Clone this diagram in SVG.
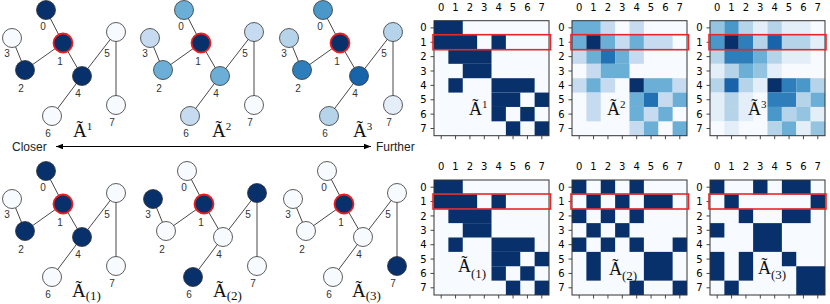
<svg xmlns="http://www.w3.org/2000/svg" xmlns:xlink="http://www.w3.org/1999/xlink" width="830" height="304" viewBox="0 0 830 304">
<style>
.edge{stroke:#333;stroke-width:0.9}
.node circle{stroke:#333;stroke-width:0.8}
.node text{font-family:"Liberation Sans",Arial,sans-serif;font-size:10px;fill:#333;text-anchor:middle}
.node.sel circle{stroke:#ee1c1c;stroke-width:1.8}
.tt{font-family:"Liberation Serif","Times New Roman",serif;fill:#111}
.lab{font-family:"DejaVu Sans",sans-serif;font-size:10px;fill:#000}
.cl{text-anchor:middle}
.rl{text-anchor:end}
.frame{fill:none;stroke:#333;stroke-width:1}
.tk{fill:none;stroke:#333;stroke-width:0.9}
.rb{fill:none;stroke:#e8262a;stroke-width:1.6}
.arr{font-family:"Liberation Sans",Arial,sans-serif;font-size:12px;fill:#222}
.c0{fill:#f7fbff}.dk{fill:#08306b}
.b1{fill:#c6dbef}.b2{fill:#6baed6}.b3{fill:#2171b5}
.t1{fill:#e3eef9}.t3{fill:#b6d4e9}.t4{fill:#94c4df}.t5{fill:#6baed6}.t6{fill:#4a98c9}.t7{fill:#2e7ebc}.t8{fill:#1764ab}
</style>
<defs>
<marker id="ah" viewBox="0 0 10 10" refX="10" refY="5" markerWidth="8" markerHeight="7" markerUnits="userSpaceOnUse" orient="auto-start-reverse"><path d="M0,1 L10,5 L0,9 z" fill="#000"/></marker>
<path id="ticks" class="tk" d="M7.19 115v3.5M21.56 115v3.5M35.94 115v3.5M50.31 115v3.5M64.69 115v3.5M79.06 115v3.5M93.44 115v3.5M107.81 115v3.5M0 7.19h-3.5M0 21.56h-3.5M0 35.94h-3.5M0 50.31h-3.5M0 64.69h-3.5M0 79.06h-3.5M0 93.44h-3.5M0 107.81h-3.5"/>
</defs>

<!-- Arrow -->
<g id="arrow">
<line x1="56" y1="146.5" x2="371" y2="146.5" stroke="#000" stroke-width="1" marker-start="url(#ah)" marker-end="url(#ah)"/>
<text class="arr" x="12" y="151">Closer</text>
<text class="arr" x="376" y="151">Further</text>
</g>

<!-- Top graph 1 -->
<g id="graph-A1" transform="translate(0,0)">
<g id="graph-A1-edges" class="connectors">
<line class="edge" x1="46" y1="10" x2="63" y2="43"/><line class="edge" x1="63" y1="43" x2="25" y2="70"/><line class="edge" x1="25" y1="70" x2="12" y2="38"/><line class="edge" x1="63" y1="43" x2="82" y2="76"/><line class="edge" x1="82" y1="76" x2="116" y2="32"/><line class="edge" x1="82" y1="76" x2="52" y2="116"/><line class="edge" x1="116" y1="32" x2="116" y2="105"/>
</g>
<g id="A1-n0" class="node"><circle cx="46" cy="10" r="9.5" class="dk"/><text x="43" y="29.5">0</text></g>
<g id="A1-n1" class="node sel"><circle cx="63" cy="43" r="9.5" class="dk"/><text x="60" y="64.5">1</text></g>
<g id="A1-n2" class="node"><circle cx="25" cy="70" r="9.5" class="dk"/><text x="21" y="91.5">2</text></g>
<g id="A1-n3" class="node"><circle cx="12" cy="38" r="9.5" class="c0"/><text x="7" y="56.5">3</text></g>
<g id="A1-n4" class="node"><circle cx="82" cy="76" r="9.5" class="dk"/><text x="78" y="97">4</text></g>
<g id="A1-n5" class="node"><circle cx="116" cy="32" r="9.5" class="c0"/><text x="107" y="56.5">5</text></g>
<g id="A1-n6" class="node"><circle cx="52" cy="116" r="9.5" class="c0"/><text x="48" y="136.5">6</text></g>
<g id="A1-n7" class="node"><circle cx="116" cy="105" r="9.5" class="c0"/><text x="112" y="125.5">7</text></g>
</g>
<text class="tt" x="73" y="137" font-size="19">Ã<tspan font-size="11" dy="-7.5">1</tspan></text>

<!-- Top graph 2 -->
<g id="graph-A2" transform="translate(138,0)">
<g id="graph-A2-edges" class="connectors">
<line class="edge" x1="46" y1="10" x2="63" y2="43"/><line class="edge" x1="63" y1="43" x2="25" y2="70"/><line class="edge" x1="25" y1="70" x2="12" y2="38"/><line class="edge" x1="63" y1="43" x2="82" y2="76"/><line class="edge" x1="82" y1="76" x2="116" y2="32"/><line class="edge" x1="82" y1="76" x2="52" y2="116"/><line class="edge" x1="116" y1="32" x2="116" y2="105"/>
</g>
<g id="A2-n0" class="node"><circle cx="46" cy="10" r="9.5" class="b2"/><text x="43" y="29.5">0</text></g>
<g id="A2-n1" class="node sel"><circle cx="63" cy="43" r="9.5" class="dk"/><text x="60" y="64.5">1</text></g>
<g id="A2-n2" class="node"><circle cx="25" cy="70" r="9.5" class="b2"/><text x="21" y="91.5">2</text></g>
<g id="A2-n3" class="node"><circle cx="12" cy="38" r="9.5" class="b1"/><text x="7" y="56.5">3</text></g>
<g id="A2-n4" class="node"><circle cx="82" cy="76" r="9.5" class="b2"/><text x="78" y="97">4</text></g>
<g id="A2-n5" class="node"><circle cx="116" cy="32" r="9.5" class="b1"/><text x="107" y="56.5">5</text></g>
<g id="A2-n6" class="node"><circle cx="52" cy="116" r="9.5" class="b1"/><text x="48" y="136.5">6</text></g>
<g id="A2-n7" class="node"><circle cx="116" cy="105" r="9.5" class="c0"/><text x="112" y="125.5">7</text></g>
</g>
<text class="tt" x="212" y="137" font-size="19">Ã<tspan font-size="11" dy="-7.5">2</tspan></text>

<!-- Top graph 3 -->
<g id="graph-A3" transform="translate(277,0)">
<g id="graph-A3-edges" class="connectors">
<line class="edge" x1="46" y1="10" x2="63" y2="43"/><line class="edge" x1="63" y1="43" x2="25" y2="70"/><line class="edge" x1="25" y1="70" x2="12" y2="38"/><line class="edge" x1="63" y1="43" x2="82" y2="76"/><line class="edge" x1="82" y1="76" x2="116" y2="32"/><line class="edge" x1="82" y1="76" x2="52" y2="116"/><line class="edge" x1="116" y1="32" x2="116" y2="105"/>
</g>
<g id="A3-n0" class="node"><circle cx="46" cy="10" r="9.5" class="t6"/><text x="43" y="29.5">0</text></g>
<g id="A3-n1" class="node sel"><circle cx="63" cy="43" r="9.5" class="dk"/><text x="60" y="64.5">1</text></g>
<g id="A3-n2" class="node"><circle cx="25" cy="70" r="9.5" class="t7"/><text x="21" y="91.5">2</text></g>
<g id="A3-n3" class="node"><circle cx="12" cy="38" r="9.5" class="t3"/><text x="7" y="56.5">3</text></g>
<g id="A3-n4" class="node"><circle cx="82" cy="76" r="9.5" class="t8"/><text x="78" y="97">4</text></g>
<g id="A3-n5" class="node"><circle cx="116" cy="32" r="9.5" class="t3"/><text x="107" y="56.5">5</text></g>
<g id="A3-n6" class="node"><circle cx="52" cy="116" r="9.5" class="t3"/><text x="48" y="136.5">6</text></g>
<g id="A3-n7" class="node"><circle cx="116" cy="105" r="9.5" class="t1"/><text x="112" y="125.5">7</text></g>
</g>
<text class="tt" x="353" y="137" font-size="19">Ã<tspan font-size="11" dy="-7.5">3</tspan></text>

<!-- Bottom graph 1 -->
<g id="graph-B1" transform="translate(0,161)">
<g id="graph-B1-edges" class="connectors">
<line class="edge" x1="46" y1="10" x2="63" y2="43"/><line class="edge" x1="63" y1="43" x2="25" y2="70"/><line class="edge" x1="25" y1="70" x2="12" y2="38"/><line class="edge" x1="63" y1="43" x2="82" y2="76"/><line class="edge" x1="82" y1="76" x2="116" y2="32"/><line class="edge" x1="82" y1="76" x2="52" y2="116"/><line class="edge" x1="116" y1="32" x2="116" y2="105"/>
</g>
<g id="B1-n0" class="node"><circle cx="46" cy="10" r="9.5" class="dk"/><text x="43" y="29.5">0</text></g>
<g id="B1-n1" class="node sel"><circle cx="63" cy="43" r="9.5" class="dk"/><text x="60" y="64.5">1</text></g>
<g id="B1-n2" class="node"><circle cx="25" cy="70" r="9.5" class="dk"/><text x="21" y="91.5">2</text></g>
<g id="B1-n3" class="node"><circle cx="12" cy="38" r="9.5" class="c0"/><text x="7" y="56.5">3</text></g>
<g id="B1-n4" class="node"><circle cx="82" cy="76" r="9.5" class="dk"/><text x="78" y="97">4</text></g>
<g id="B1-n5" class="node"><circle cx="116" cy="32" r="9.5" class="c0"/><text x="107" y="56.5">5</text></g>
<g id="B1-n6" class="node"><circle cx="52" cy="116" r="9.5" class="c0"/><text x="48" y="136.5">6</text></g>
<g id="B1-n7" class="node"><circle cx="116" cy="105" r="9.5" class="c0"/><text x="112" y="125.5">7</text></g>
</g>
<text class="tt" x="72" y="297" font-size="19">Ã<tspan font-size="13" dy="2.5">(1)</tspan></text>

<!-- Bottom graph 2 -->
<g id="graph-B2" transform="translate(141,161)">
<g id="graph-B2-edges" class="connectors">
<line class="edge" x1="46" y1="10" x2="63" y2="43"/><line class="edge" x1="63" y1="43" x2="25" y2="70"/><line class="edge" x1="25" y1="70" x2="12" y2="38"/><line class="edge" x1="63" y1="43" x2="82" y2="76"/><line class="edge" x1="82" y1="76" x2="116" y2="32"/><line class="edge" x1="82" y1="76" x2="52" y2="116"/><line class="edge" x1="116" y1="32" x2="116" y2="105"/>
</g>
<g id="B2-n0" class="node"><circle cx="46" cy="10" r="9.5" class="c0"/><text x="43" y="29.5">0</text></g>
<g id="B2-n1" class="node sel"><circle cx="63" cy="43" r="9.5" class="dk"/><text x="60" y="64.5">1</text></g>
<g id="B2-n2" class="node"><circle cx="25" cy="70" r="9.5" class="c0"/><text x="21" y="91.5">2</text></g>
<g id="B2-n3" class="node"><circle cx="12" cy="38" r="9.5" class="dk"/><text x="7" y="56.5">3</text></g>
<g id="B2-n4" class="node"><circle cx="82" cy="76" r="9.5" class="c0"/><text x="78" y="97">4</text></g>
<g id="B2-n5" class="node"><circle cx="116" cy="32" r="9.5" class="dk"/><text x="107" y="56.5">5</text></g>
<g id="B2-n6" class="node"><circle cx="52" cy="116" r="9.5" class="dk"/><text x="48" y="136.5">6</text></g>
<g id="B2-n7" class="node"><circle cx="116" cy="105" r="9.5" class="c0"/><text x="112" y="125.5">7</text></g>
</g>
<text class="tt" x="213" y="297" font-size="19">Ã<tspan font-size="13" dy="2.5">(2)</tspan></text>

<!-- Bottom graph 3 -->
<g id="graph-B3" transform="translate(281,161)">
<g id="graph-B3-edges" class="connectors">
<line class="edge" x1="46" y1="10" x2="63" y2="43"/><line class="edge" x1="63" y1="43" x2="25" y2="70"/><line class="edge" x1="25" y1="70" x2="12" y2="38"/><line class="edge" x1="63" y1="43" x2="82" y2="76"/><line class="edge" x1="82" y1="76" x2="116" y2="32"/><line class="edge" x1="82" y1="76" x2="52" y2="116"/><line class="edge" x1="116" y1="32" x2="116" y2="105"/>
</g>
<g id="B3-n0" class="node"><circle cx="46" cy="10" r="9.5" class="c0"/><text x="43" y="29.5">0</text></g>
<g id="B3-n1" class="node sel"><circle cx="63" cy="43" r="9.5" class="dk"/><text x="60" y="64.5">1</text></g>
<g id="B3-n2" class="node"><circle cx="25" cy="70" r="9.5" class="c0"/><text x="21" y="91.5">2</text></g>
<g id="B3-n3" class="node"><circle cx="12" cy="38" r="9.5" class="c0"/><text x="7" y="56.5">3</text></g>
<g id="B3-n4" class="node"><circle cx="82" cy="76" r="9.5" class="c0"/><text x="78" y="97">4</text></g>
<g id="B3-n5" class="node"><circle cx="116" cy="32" r="9.5" class="c0"/><text x="107" y="56.5">5</text></g>
<g id="B3-n6" class="node"><circle cx="52" cy="116" r="9.5" class="c0"/><text x="48" y="136.5">6</text></g>
<g id="B3-n7" class="node"><circle cx="116" cy="105" r="9.5" class="dk"/><text x="112" y="125.5">7</text></g>
</g>
<text class="tt" x="352" y="297" font-size="19">Ã<tspan font-size="13" dy="2.5">(3)</tspan></text>

<!-- Matrix top 1 -->
<g id="mat-A1" transform="translate(434,20.7)">
<g transform="scale(14.375)">
<rect width="8" height="8" class="c0"/>
<g class="dk">
<rect x="0" y="0" width="2" height="1"/><rect x="0" y="1" width="3" height="1"/><rect x="4" y="1" width="1" height="1"/><rect x="1" y="2" width="3" height="1"/><rect x="2" y="3" width="2" height="1"/><rect x="1" y="4" width="1" height="1"/><rect x="4" y="4" width="3" height="1"/><rect x="4" y="5" width="2" height="1"/><rect x="7" y="5" width="1" height="1"/><rect x="4" y="6" width="1" height="1"/><rect x="6" y="6" width="1" height="1"/><rect x="5" y="7" width="1" height="1"/><rect x="7" y="7" width="1" height="1"/>
</g>
</g>
<rect class="frame" width="115" height="115"/>
<use xlink:href="#ticks"/>
<text class="lab cl" x="7.19" y="-10">0</text><text class="lab cl" x="21.56" y="-10">1</text><text class="lab cl" x="35.94" y="-10">2</text><text class="lab cl" x="50.31" y="-10">3</text><text class="lab cl" x="64.69" y="-10">4</text><text class="lab cl" x="79.06" y="-10">5</text><text class="lab cl" x="93.44" y="-10">6</text><text class="lab cl" x="107.81" y="-10">7</text>
<text class="lab rl" x="-7.5" y="10.8">0</text><text class="lab rl" x="-7.5" y="25.2">1</text><text class="lab rl" x="-7.5" y="39.5">2</text><text class="lab rl" x="-7.5" y="53.9">3</text><text class="lab rl" x="-7.5" y="68.3">4</text><text class="lab rl" x="-7.5" y="82.7">5</text><text class="lab rl" x="-7.5" y="97">6</text><text class="lab rl" x="-7.5" y="111.4">7</text>
<rect class="rb" x="-1" y="14" width="117.5" height="15"/>
</g>
<text class="tt" x="469" y="115" font-size="18">Ã<tspan font-size="11" dy="-7">1</tspan></text>

<!-- Matrix top 2 -->
<g id="mat-A2" transform="translate(572,20.7)">
<g transform="scale(14.375)">
<rect width="8" height="8" class="c0"/>
<rect x="0" y="0" width="2" height="1" class="b2"/><rect x="2" y="0" width="1" height="1" class="b1"/><rect x="4" y="0" width="1" height="1" class="b1"/>
<rect x="0" y="1" width="1" height="1" class="b2"/><rect x="1" y="1" width="1" height="1" class="dk"/><rect x="2" y="1" width="1" height="1" class="b2"/><rect x="3" y="1" width="1" height="1" class="b1"/><rect x="4" y="1" width="1" height="1" class="b2"/><rect x="5" y="1" width="2" height="1" class="b1"/>
<rect x="0" y="2" width="1" height="1" class="b1"/><rect x="1" y="2" width="1" height="1" class="b2"/><rect x="2" y="2" width="1" height="1" class="b3"/><rect x="3" y="2" width="1" height="1" class="b2"/><rect x="4" y="2" width="1" height="1" class="b1"/>
<rect x="1" y="3" width="1" height="1" class="b1"/><rect x="2" y="3" width="2" height="1" class="b2"/>
<rect x="0" y="4" width="1" height="1" class="b1"/><rect x="1" y="4" width="1" height="1" class="b2"/><rect x="2" y="4" width="1" height="1" class="b1"/><rect x="4" y="4" width="1" height="1" class="dk"/><rect x="5" y="4" width="2" height="1" class="b2"/><rect x="7" y="4" width="1" height="1" class="b1"/>
<rect x="1" y="5" width="1" height="1" class="b1"/><rect x="4" y="5" width="1" height="1" class="b2"/><rect x="5" y="5" width="1" height="1" class="b3"/><rect x="6" y="5" width="1" height="1" class="b1"/><rect x="7" y="5" width="1" height="1" class="b2"/>
<rect x="1" y="6" width="1" height="1" class="b1"/><rect x="4" y="6" width="1" height="1" class="b2"/><rect x="5" y="6" width="1" height="1" class="b1"/><rect x="6" y="6" width="1" height="1" class="b2"/>
<rect x="4" y="7" width="1" height="1" class="b1"/><rect x="5" y="7" width="1" height="1" class="b2"/><rect x="7" y="7" width="1" height="1" class="b2"/>
</g>
<rect class="frame" width="115" height="115"/>
<use xlink:href="#ticks"/>
<text class="lab cl" x="7.19" y="-10">0</text><text class="lab cl" x="21.56" y="-10">1</text><text class="lab cl" x="35.94" y="-10">2</text><text class="lab cl" x="50.31" y="-10">3</text><text class="lab cl" x="64.69" y="-10">4</text><text class="lab cl" x="79.06" y="-10">5</text><text class="lab cl" x="93.44" y="-10">6</text><text class="lab cl" x="107.81" y="-10">7</text>
<text class="lab rl" x="-7.5" y="10.8">0</text><text class="lab rl" x="-7.5" y="25.2">1</text><text class="lab rl" x="-7.5" y="39.5">2</text><text class="lab rl" x="-7.5" y="53.9">3</text><text class="lab rl" x="-7.5" y="68.3">4</text><text class="lab rl" x="-7.5" y="82.7">5</text><text class="lab rl" x="-7.5" y="97">6</text><text class="lab rl" x="-7.5" y="111.4">7</text>
<rect class="rb" x="-1" y="14" width="117.5" height="15"/>
</g>
<text class="tt" x="607" y="115" font-size="18">Ã<tspan font-size="11" dy="-7">2</tspan></text>

<!-- Matrix top 3 -->
<g id="mat-A3" transform="translate(710,20.7)">
<g transform="scale(14.375)">
<rect width="8" height="8" class="c0"/>
<rect x="0" y="0" width="1" height="1" class="t4"/><rect x="1" y="0" width="1" height="1" class="t6"/><rect x="2" y="0" width="1" height="1" class="t3"/><rect x="3" y="0" width="1" height="1" class="t1"/><rect x="4" y="0" width="1" height="1" class="t3"/><rect x="5" y="0" width="2" height="1" class="t1"/>
<rect x="0" y="1" width="1" height="1" class="t6"/><rect x="1" y="1" width="1" height="1" class="dk"/><rect x="2" y="1" width="1" height="1" class="t7"/><rect x="3" y="1" width="1" height="1" class="t3"/><rect x="4" y="1" width="1" height="1" class="t8"/><rect x="5" y="1" width="2" height="1" class="t3"/><rect x="7" y="1" width="1" height="1" class="t1"/>
<rect x="0" y="2" width="1" height="1" class="t3"/><rect x="1" y="2" width="2" height="1" class="t7"/><rect x="3" y="2" width="1" height="1" class="t5"/><rect x="4" y="2" width="1" height="1" class="t3"/><rect x="5" y="2" width="2" height="1" class="t1"/>
<rect x="0" y="3" width="1" height="1" class="t1"/><rect x="1" y="3" width="1" height="1" class="t3"/><rect x="2" y="3" width="1" height="1" class="t5"/><rect x="3" y="3" width="1" height="1" class="t4"/><rect x="4" y="3" width="1" height="1" class="t1"/>
<rect x="0" y="4" width="1" height="1" class="t3"/><rect x="1" y="4" width="1" height="1" class="t8"/><rect x="2" y="4" width="1" height="1" class="t3"/><rect x="3" y="4" width="1" height="1" class="t1"/><rect x="4" y="4" width="1" height="1" class="dk"/><rect x="5" y="4" width="1" height="1" class="t7"/><rect x="6" y="4" width="1" height="1" class="t6"/><rect x="7" y="4" width="1" height="1" class="t3"/>
<rect x="0" y="5" width="1" height="1" class="t1"/><rect x="1" y="5" width="1" height="1" class="t3"/><rect x="2" y="5" width="1" height="1" class="t1"/><rect x="4" y="5" width="2" height="1" class="t7"/><rect x="6" y="5" width="1" height="1" class="t3"/><rect x="7" y="5" width="1" height="1" class="t5"/>
<rect x="0" y="6" width="1" height="1" class="t1"/><rect x="1" y="6" width="1" height="1" class="t3"/><rect x="2" y="6" width="1" height="1" class="t1"/><rect x="4" y="6" width="1" height="1" class="t6"/><rect x="5" y="6" width="1" height="1" class="t3"/><rect x="6" y="6" width="1" height="1" class="t4"/><rect x="7" y="6" width="1" height="1" class="t1"/>
<rect x="1" y="7" width="1" height="1" class="t1"/><rect x="4" y="7" width="1" height="1" class="t3"/><rect x="5" y="7" width="1" height="1" class="t5"/><rect x="6" y="7" width="1" height="1" class="t1"/><rect x="7" y="7" width="1" height="1" class="t4"/>
</g>
<rect class="frame" width="115" height="115"/>
<use xlink:href="#ticks"/>
<text class="lab cl" x="7.19" y="-10">0</text><text class="lab cl" x="21.56" y="-10">1</text><text class="lab cl" x="35.94" y="-10">2</text><text class="lab cl" x="50.31" y="-10">3</text><text class="lab cl" x="64.69" y="-10">4</text><text class="lab cl" x="79.06" y="-10">5</text><text class="lab cl" x="93.44" y="-10">6</text><text class="lab cl" x="107.81" y="-10">7</text>
<text class="lab rl" x="-7.5" y="10.8">0</text><text class="lab rl" x="-7.5" y="25.2">1</text><text class="lab rl" x="-7.5" y="39.5">2</text><text class="lab rl" x="-7.5" y="53.9">3</text><text class="lab rl" x="-7.5" y="68.3">4</text><text class="lab rl" x="-7.5" y="82.7">5</text><text class="lab rl" x="-7.5" y="97">6</text><text class="lab rl" x="-7.5" y="111.4">7</text>
<rect class="rb" x="-1" y="14" width="117" height="15"/>
</g>
<text class="tt" x="748" y="115" font-size="18">Ã<tspan font-size="11" dy="-7">3</tspan></text>

<!-- Matrix bottom 1 -->
<g id="mat-B1" transform="translate(434,180)">
<g transform="scale(14.375)">
<rect width="8" height="8" class="c0"/>
<g class="dk">
<rect x="0" y="0" width="2" height="1"/><rect x="0" y="1" width="3" height="1"/><rect x="4" y="1" width="1" height="1"/><rect x="1" y="2" width="3" height="1"/><rect x="2" y="3" width="2" height="1"/><rect x="1" y="4" width="1" height="1"/><rect x="4" y="4" width="3" height="1"/><rect x="4" y="5" width="2" height="1"/><rect x="7" y="5" width="1" height="1"/><rect x="4" y="6" width="1" height="1"/><rect x="6" y="6" width="1" height="1"/><rect x="5" y="7" width="1" height="1"/><rect x="7" y="7" width="1" height="1"/>
</g>
</g>
<rect class="frame" width="115" height="115"/>
<use xlink:href="#ticks"/>
<text class="lab cl" x="7.19" y="-10">0</text><text class="lab cl" x="21.56" y="-10">1</text><text class="lab cl" x="35.94" y="-10">2</text><text class="lab cl" x="50.31" y="-10">3</text><text class="lab cl" x="64.69" y="-10">4</text><text class="lab cl" x="79.06" y="-10">5</text><text class="lab cl" x="93.44" y="-10">6</text><text class="lab cl" x="107.81" y="-10">7</text>
<text class="lab rl" x="-7.5" y="10.8">0</text><text class="lab rl" x="-7.5" y="25.2">1</text><text class="lab rl" x="-7.5" y="39.5">2</text><text class="lab rl" x="-7.5" y="53.9">3</text><text class="lab rl" x="-7.5" y="68.3">4</text><text class="lab rl" x="-7.5" y="82.7">5</text><text class="lab rl" x="-7.5" y="97">6</text><text class="lab rl" x="-7.5" y="111.4">7</text>
<rect class="rb" x="-1" y="14" width="117.5" height="15"/>
</g>
<text class="tt" x="458" y="272" font-size="18">Ã<tspan font-size="13" dy="6">(1)</tspan></text>

<!-- Matrix bottom 2 -->
<g id="mat-B2" transform="translate(572,180)">
<g transform="scale(14.375)">
<rect width="8" height="8" class="c0"/>
<g class="dk">
<rect x="0" y="0" width="1" height="1"/><rect x="2" y="0" width="1" height="1"/><rect x="4" y="0" width="1" height="1"/>
<rect x="1" y="1" width="1" height="1"/><rect x="3" y="1" width="1" height="1"/><rect x="5" y="1" width="2" height="1"/>
<rect x="0" y="2" width="1" height="1"/><rect x="2" y="2" width="1" height="1"/><rect x="4" y="2" width="1" height="1"/>
<rect x="1" y="3" width="1" height="1"/><rect x="3" y="3" width="1" height="1"/>
<rect x="0" y="4" width="1" height="1"/><rect x="2" y="4" width="1" height="1"/><rect x="4" y="4" width="1" height="1"/><rect x="7" y="4" width="1" height="1"/>
<rect x="1" y="5" width="1" height="2"/><rect x="5" y="5" width="2" height="2"/>
<rect x="4" y="7" width="1" height="1"/><rect x="7" y="7" width="1" height="1"/>
</g>
</g>
<rect class="frame" width="115" height="115"/>
<use xlink:href="#ticks"/>
<text class="lab cl" x="7.19" y="-10">0</text><text class="lab cl" x="21.56" y="-10">1</text><text class="lab cl" x="35.94" y="-10">2</text><text class="lab cl" x="50.31" y="-10">3</text><text class="lab cl" x="64.69" y="-10">4</text><text class="lab cl" x="79.06" y="-10">5</text><text class="lab cl" x="93.44" y="-10">6</text><text class="lab cl" x="107.81" y="-10">7</text>
<text class="lab rl" x="-7.5" y="10.8">0</text><text class="lab rl" x="-7.5" y="25.2">1</text><text class="lab rl" x="-7.5" y="39.5">2</text><text class="lab rl" x="-7.5" y="53.9">3</text><text class="lab rl" x="-7.5" y="68.3">4</text><text class="lab rl" x="-7.5" y="82.7">5</text><text class="lab rl" x="-7.5" y="97">6</text><text class="lab rl" x="-7.5" y="111.4">7</text>
<rect class="rb" x="-1" y="14" width="117.5" height="15"/>
</g>
<text class="tt" x="609" y="275" font-size="18">Ã<tspan font-size="13" dy="5">(2)</tspan></text>

<!-- Matrix bottom 3 -->
<g id="mat-B3" transform="translate(710,180)">
<g transform="scale(14.375)">
<rect width="8" height="8" class="c0"/>
<g class="dk">
<rect x="0" y="0" width="1" height="1"/><rect x="3" y="0" width="1" height="1"/><rect x="5" y="0" width="2" height="1"/>
<rect x="1" y="1" width="1" height="1"/><rect x="7" y="1" width="1" height="1"/>
<rect x="2" y="2" width="1" height="1"/><rect x="5" y="2" width="2" height="1"/>
<rect x="0" y="3" width="1" height="1"/><rect x="3" y="3" width="2" height="2"/>
<rect x="0" y="5" width="1" height="2"/><rect x="2" y="5" width="1" height="2"/><rect x="5" y="5" width="1" height="1"/>
<rect x="6" y="6" width="2" height="2"/>
<rect x="1" y="7" width="1" height="1"/>
</g>
</g>
<rect class="frame" width="115" height="115"/>
<use xlink:href="#ticks"/>
<text class="lab cl" x="7.19" y="-10">0</text><text class="lab cl" x="21.56" y="-10">1</text><text class="lab cl" x="35.94" y="-10">2</text><text class="lab cl" x="50.31" y="-10">3</text><text class="lab cl" x="64.69" y="-10">4</text><text class="lab cl" x="79.06" y="-10">5</text><text class="lab cl" x="93.44" y="-10">6</text><text class="lab cl" x="107.81" y="-10">7</text>
<text class="lab rl" x="-7.5" y="10.8">0</text><text class="lab rl" x="-7.5" y="25.2">1</text><text class="lab rl" x="-7.5" y="39.5">2</text><text class="lab rl" x="-7.5" y="53.9">3</text><text class="lab rl" x="-7.5" y="68.3">4</text><text class="lab rl" x="-7.5" y="82.7">5</text><text class="lab rl" x="-7.5" y="97">6</text><text class="lab rl" x="-7.5" y="111.4">7</text>
<rect class="rb" x="-1" y="14" width="117" height="15"/>
</g>
<text class="tt" x="758" y="274" font-size="18">Ã<tspan font-size="13" dy="5">(3)</tspan></text>
</svg>
